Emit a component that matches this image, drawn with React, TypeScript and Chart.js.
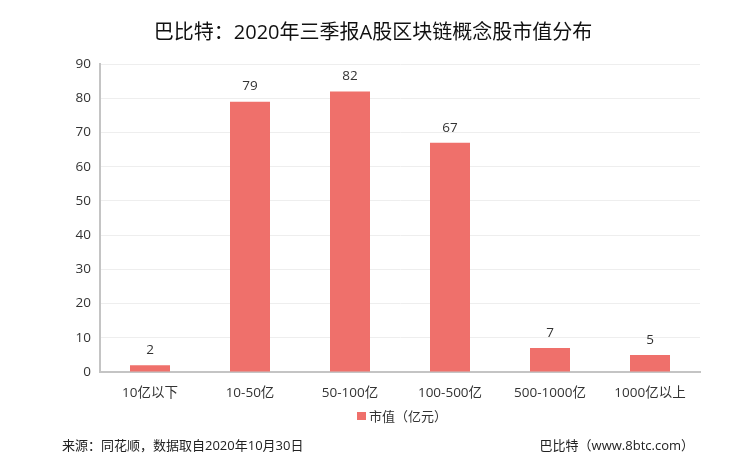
import React, { useEffect, useRef } from 'react';
import { Chart, registerables } from 'chart.js';

Chart.register(...registerables);

const categories = ['10亿以下', '10-50亿', '50-100亿', '100-500亿', '500-1000亿', '1000亿以上'];
const counts = [2, 79, 82, 67, 7, 5];
const seriesName = '市值（亿元）';
const titleText = '巴比特：2020年三季报A股区块链概念股市值分布';
const sourceText = '来源：同花顺，数据取自2020年10月30日';
const creditText = '巴比特（www.8btc.com）';

const FONT = '"Open Sans", "Noto Sans CJK SC", sans-serif';
const BAR_COLOR = '#ef706b';

// title, legend, footer and value labels are painted by hand
const decorations = {
  id: 'decorations',
  afterDatasetsDraw(chart: Chart) {
    const { ctx } = chart;
    ctx.save();

    // value labels
    const meta = chart.getDatasetMeta(0);
    ctx.fillStyle = '#333';
    ctx.font = `13.5px ${FONT}`;
    ctx.textAlign = 'center';
    ctx.textBaseline = 'middle';
    meta.data.forEach((bar: any, i: number) => {
      ctx.fillText(String(counts[i]), bar.x, bar.y - 15);
    });

    // title
    ctx.fillStyle = '#111';
    ctx.font = `20px ${FONT}`;
    ctx.fillText(titleText, 373, 33);

    // legend
    ctx.fillStyle = BAR_COLOR;
    ctx.fillRect(357, 412, 9, 8);
    ctx.fillStyle = '#333';
    ctx.font = `13px ${FONT}`;
    ctx.textAlign = 'left';
    ctx.fillText(seriesName, 369, 417);

    // footer
    ctx.fillStyle = '#222';
    ctx.fillText(sourceText, 62, 446);
    ctx.textAlign = 'right';
    ctx.fillText(creditText, 694, 446);

    ctx.restore();
  },
};

const App: React.FC = () => {
  const canvasRef = useRef<HTMLCanvasElement>(null);
  const chartRef = useRef<Chart | null>(null);

  useEffect(() => {
    document.body.style.margin = '0';
    if (!canvasRef.current) return;
    if (chartRef.current) chartRef.current.destroy();

    chartRef.current = new Chart(canvasRef.current, {
      type: 'bar',
      data: {
        labels: categories,
        datasets: [
          {
            label: seriesName,
            data: counts,
            backgroundColor: BAR_COLOR,
            barPercentage: 0.4,
            categoryPercentage: 1,
          },
        ],
      },
      options: {
        responsive: false,
        animation: false,
        layout: { padding: { top: 64, right: 49, bottom: 0, left: 0 } },
        plugins: {
          legend: { display: false },
          title: { display: false },
          tooltip: { enabled: false },
        },
        scales: {
          x: {
            grid: { display: false },
            border: { color: '#c4c4c4', width: 2 },
            ticks: { color: '#333', font: { size: 13.5, family: FONT }, padding: 5 },
            afterFit: (scale: any) => {
              scale.height = 96;
            },
          },
          y: {
            min: 0,
            max: 90,
            ticks: { stepSize: 10, color: '#333', font: { size: 13.5, family: FONT }, padding: 9 },
            grid: { color: '#eeeeee', drawTicks: false },
            border: { color: '#c4c4c4', width: 2 },
            afterFit: (scale: any) => {
              scale.width = 100;
            },
          },
        },
      },
      plugins: [decorations],
    });

    return () => {
      if (chartRef.current) {
        chartRef.current.destroy();
        chartRef.current = null;
      }
    };
  }, []);

  return (
    <div style={{ width: 749, height: 468, background: '#fff' }}>
      <canvas ref={canvasRef} width={749} height={468} style={{ display: 'block' }}></canvas>
    </div>
  );
};

export default App;
